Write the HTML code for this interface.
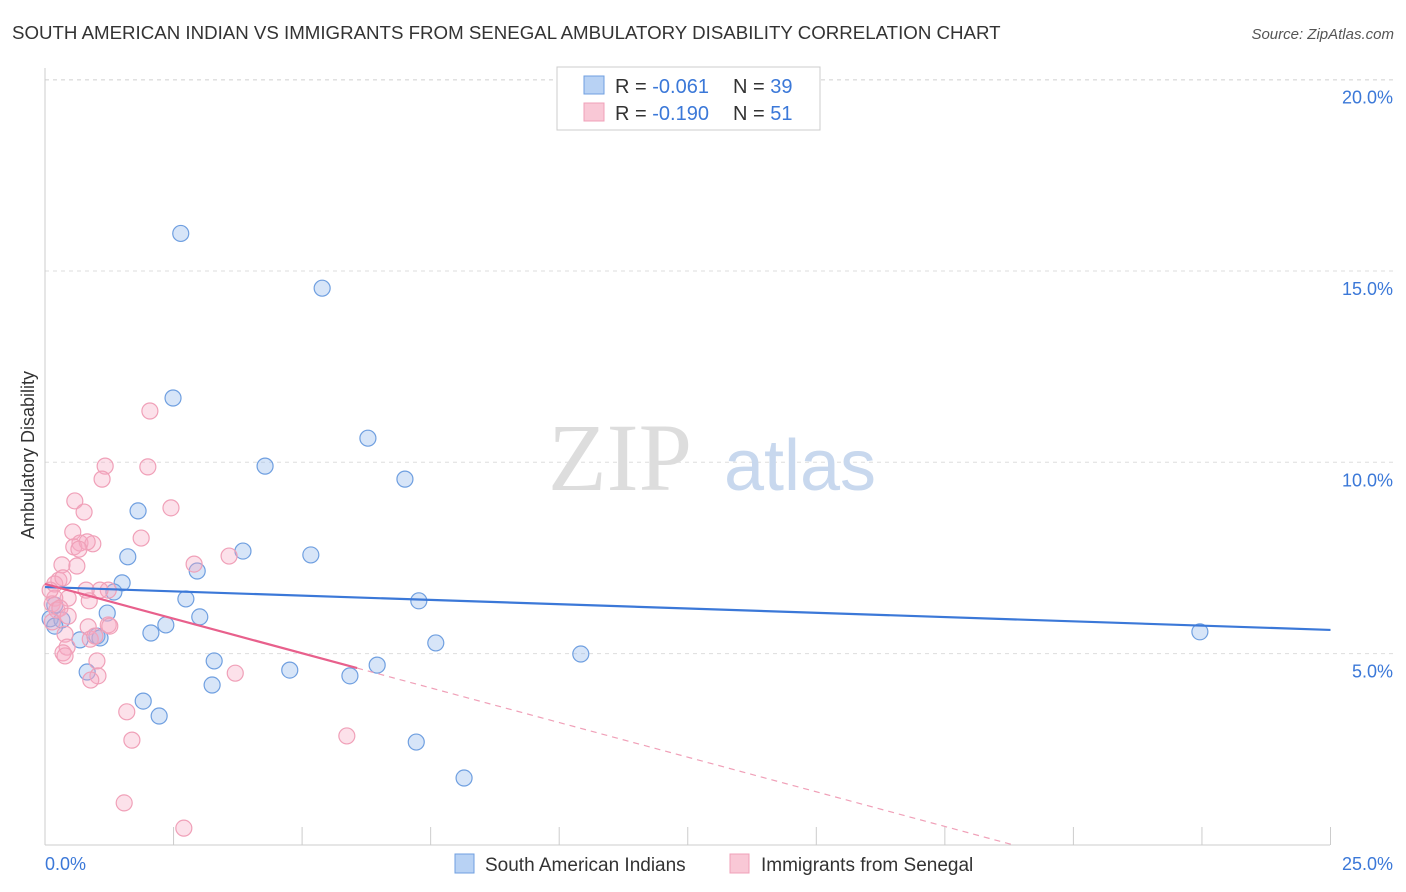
<!DOCTYPE html>
<html><head><meta charset="utf-8"><style>
body{margin:0;background:#fff;font-family:"Liberation Sans",sans-serif;}
svg{display:block}
</style></head><body>
<svg width="1406" height="892" font-family="Liberation Sans, sans-serif">
<text x="12" y="39" font-size="18.7" fill="#333">SOUTH AMERICAN INDIAN VS IMMIGRANTS FROM SENEGAL AMBULATORY DISABILITY CORRELATION CHART</text>
<text x="1394" y="39" font-size="15" fill="#555" font-style="italic" text-anchor="end">Source: ZipAtlas.com</text>
<g id="grid"></g>
<text x="620" y="490" font-size="96" fill="#ddd" font-family="Liberation Serif, serif" text-anchor="middle">ZIP</text>
<text x="800" y="490" font-size="72" fill="#c8d8ee" text-anchor="middle">atlas</text>
<text transform="translate(34,455) rotate(-90)" font-size="18" fill="#333" text-anchor="middle">Ambulatory Disability</text>
<g id="marks"></g>
<g>
<rect x="557" y="67" width="263" height="63" fill="#fff" stroke="#ccc"/>
<rect x="584" y="76" width="20" height="18" fill="#b8d2f4" stroke="#6f9fe0"/>
<text x="615" y="93" font-size="20" fill="#333">R = <tspan fill="#3b78d8">-0.061</tspan></text>
<text x="733" y="93" font-size="20" fill="#333">N = <tspan fill="#3b78d8">39</tspan></text>
<rect x="584" y="103" width="20" height="18" fill="#f9c8d6" stroke="#f0a0b8"/>
<text x="615" y="120" font-size="20" fill="#333">R = <tspan fill="#3b78d8">-0.190</tspan></text>
<text x="733" y="120" font-size="20" fill="#333">N = <tspan fill="#3b78d8"> 51</tspan></text>
</g>
<g>
<rect x="455" y="854" width="19" height="19" fill="#b8d2f4" stroke="#6f9fe0"/>
<text x="485" y="871" font-size="19" fill="#333">South American Indians</text>
<rect x="730" y="854" width="19" height="19" fill="#f9c8d6" stroke="#f0a0b8"/>
<text x="761" y="871" font-size="19" fill="#333">Immigrants from Senegal</text>
</g>
<text x="45" y="870" font-size="18" fill="#3b78d8">0.0%</text>
<text x="1393" y="870" font-size="18" fill="#3b78d8" text-anchor="end">25.0%</text>
</svg>
<script>
const yTicks=[5,10,15,20];
const yTickLabels=["5.0%","10.0%","15.0%","20.0%"];
const xTicks=[0,2.5,5,7.5,10,12.5,15,17.5,20,22.5,25];
const blueX=[2.64,5.39,2.49,6.28,4.28,7.00,1.81,3.85,5.17,1.61,2.96,1.50,1.34,2.74,7.27,1.21,3.01,0.10,0.33,0.19,2.35,2.06,1.01,1.07,0.68,7.60,3.29,6.46,4.76,10.42,5.93,0.82,3.25,1.91,2.22,7.22,8.15,22.46,0.19];
const blueY=[15.98,14.55,11.68,10.63,9.90,9.56,8.73,7.68,7.58,7.53,7.16,6.85,6.61,6.43,6.38,6.06,5.96,5.91,5.88,5.72,5.75,5.54,5.46,5.41,5.36,5.28,4.81,4.70,4.57,4.99,4.42,4.52,4.18,3.76,3.37,2.69,1.75,5.57,6.27];
const pinkX=[2.04,1.17,2.00,1.11,0.58,2.45,0.76,0.54,1.87,0.68,0.56,0.93,0.82,0.66,3.58,2.90,0.33,0.62,0.27,0.19,0.35,1.23,1.07,0.80,0.45,0.86,0.19,0.14,0.23,0.29,0.45,1.23,0.84,1.26,0.39,0.88,0.97,0.43,0.35,0.39,1.01,1.03,0.89,3.70,1.59,1.69,5.87,1.54,2.70,0.14,0.10];
const pinkY=[11.34,9.90,9.88,9.56,8.99,8.81,8.70,8.18,8.02,7.89,7.79,7.87,7.92,7.73,7.55,7.34,7.32,7.29,6.92,6.82,6.98,6.66,6.66,6.66,6.45,6.38,6.45,6.30,6.14,6.19,5.98,5.75,5.70,5.72,5.51,5.38,5.46,5.17,5.02,4.94,4.81,4.42,4.31,4.49,3.48,2.74,2.85,1.10,0.44,5.83,6.66];
const blueTrend=[6.74,5.62];
const pinkTrend=[6.82,-0.362];
const pinkSolidEnd=6.07;
const X=v=>45+v*51.42, Y=v=>845-v*38.27;
const NS="http://www.w3.org/2000/svg";
function mk(t,a,p){const e=document.createElementNS(NS,t);for(const k in a)e.setAttribute(k,a[k]);p.appendChild(e);return e;}
const grid=document.getElementById('grid'),marks=document.getElementById('marks');
yTicks.forEach((v,i)=>{
 const l=mk('line',{x1:45,x2:1393,y1:Y(v),y2:Y(v),stroke:'#ddd','stroke-dasharray':'4,4'},grid);
 
 
 const t=mk('text',{x:1393,y:Y(v)+24,'font-size':18,fill:'#3b78d8','text-anchor':'end'},grid);
 t.textContent=yTickLabels[i];
 
 
});
const topLine=mk('line',{x1:45,x2:1393,y1:80,y2:80,stroke:'#ddd','stroke-dasharray':'4,4'},grid);


const ya=mk('line',{x1:45,x2:45,y1:68,y2:845,stroke:'#ccc'},grid);


const xa=mk('line',{x1:45,x2:1330,y1:845,y2:845,stroke:'#ccc'},grid);


xTicks.forEach(v=>{
 const t=mk('line',{x1:X(v),x2:X(v),y1:827,y2:845,stroke:'#ccc'},grid);
 
 
});
blueX.forEach((x,i)=>{
 const c=mk('circle',{cx:X(x),cy:Y(blueY[i]),r:8,fill:'rgba(140,180,235,0.35)',stroke:'#6f9fe0','stroke-width':1.2},marks);
 
 
});
pinkX.forEach((x,i)=>{
 const c=mk('circle',{cx:X(x),cy:Y(pinkY[i]),r:8,fill:'rgba(245,170,195,0.35)',stroke:'#f0a0b8','stroke-width':1.2},marks);
 
 
});
const bl=mk('line',{x1:X(0),y1:Y(blueTrend[0]),x2:X(25),y2:Y(blueTrend[1]),stroke:'#3b78d8','stroke-width':2.2},marks);


const pf=x=>pinkTrend[0]+pinkTrend[1]*x;
const zeroX=-pinkTrend[0]/pinkTrend[1];
const pd=mk('line',{x1:X(pinkSolidEnd),y1:Y(pf(pinkSolidEnd)),x2:X(zeroX),y2:Y(0),stroke:'#f0a0b8','stroke-width':1.2,'stroke-dasharray':'6,5'},marks);


const ps=mk('line',{x1:X(0),y1:Y(pf(0)),x2:X(pinkSolidEnd),y2:Y(pf(pinkSolidEnd)),stroke:'#e8608c','stroke-width':2.2},marks);


</script>
</body></html>
